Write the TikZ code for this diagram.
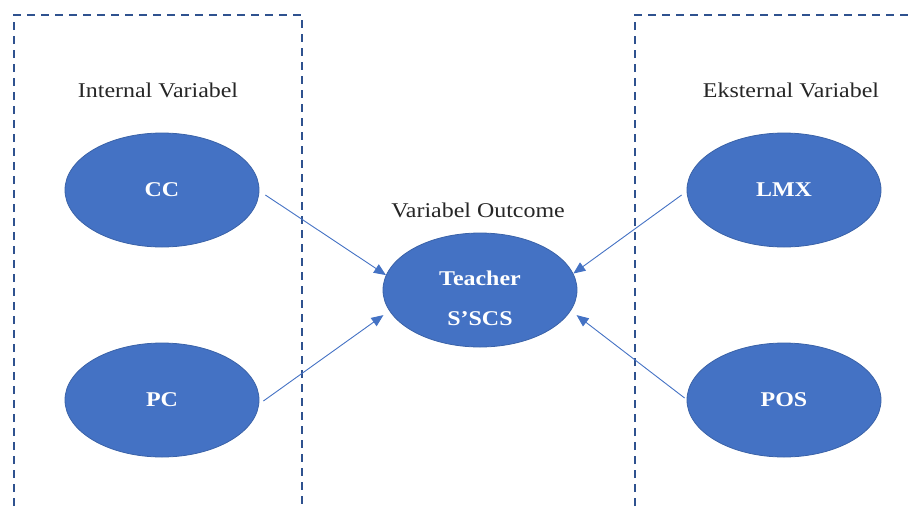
\documentclass[tikz,border=0pt]{standalone}
\usepackage{fontspec}
\setmainfont{Liberation Serif}[FakeStretch=1.14]
\usepackage{xcolor}
\usepackage{tikz}
\usetikzlibrary{shapes.geometric,arrows.meta}
\definecolor{varblue}{HTML}{4472C4}
\definecolor{varedge}{HTML}{3A62A8}
\definecolor{boxblue}{HTML}{2F528F}
\tikzset{
    varnode/.style = {ellipse, minimum width=194pt, minimum height=114pt, inner sep=0pt, text centered, draw=varedge, line width=0.8pt, fill=varblue, text=white, font=\fontsize{21}{40}\selectfont\bfseries, align=center},
    vartext/.style = {inner sep=0pt, text=white, font=\fontsize{21}{40}\selectfont\bfseries, align=center},
    grouplabel/.style = {font=\fontsize{21}{24}\selectfont, text=black!85},
    groupbox/.style = {draw=boxblue, line width=2pt, dash pattern=on 8pt off 6pt},
    arrow/.style = {draw=varblue, line width=0.9pt, -{Triangle[length=12pt,width=10pt]}}
}
\begin{document}
\begin{tikzpicture}[x=1pt, y=-1pt, node distance=210pt]
\useasboundingbox (0,0) rectangle (913,507);
\draw [groupbox] (14,520) |- (302,15) -- (302,520);
\draw [groupbox] (635,520) |- (925,15);

\node (internal) [grouplabel] at (158,90) {Internal Variabel};
\node (eksternal) [grouplabel] at (791,90) {Eksternal Variabel};
\node (outcome) [grouplabel] at (478,210) {Variabel Outcome};

\node (cc) [varnode] at (162,190) {CC};
\node (pc) [varnode, below of=cc] {PC};
\node (teacher) [varnode] at (480,290) {};
\node (teachertext) [vartext] at ([yshift=-8pt]teacher.center) {Teacher\\S’SCS};
\node (lmx) [varnode] at (784,190) {LMX};
\node (pos) [varnode, below of=lmx] {POS};

\draw [arrow] ([shift={(6,5)}]cc.east) -- (teacher.171);
\draw [arrow] ([shift={(4,1)}]pc.east) -- ([xshift=-9pt]teacher.196);
\draw [arrow] ([shift={(-5,5)}]lmx.west) -- (teacher.10);
\draw [arrow] ([shift={(-2,-2)}]pos.west) -- ([xshift=9pt]teacher.-16);
\end{tikzpicture}
\end{document}
